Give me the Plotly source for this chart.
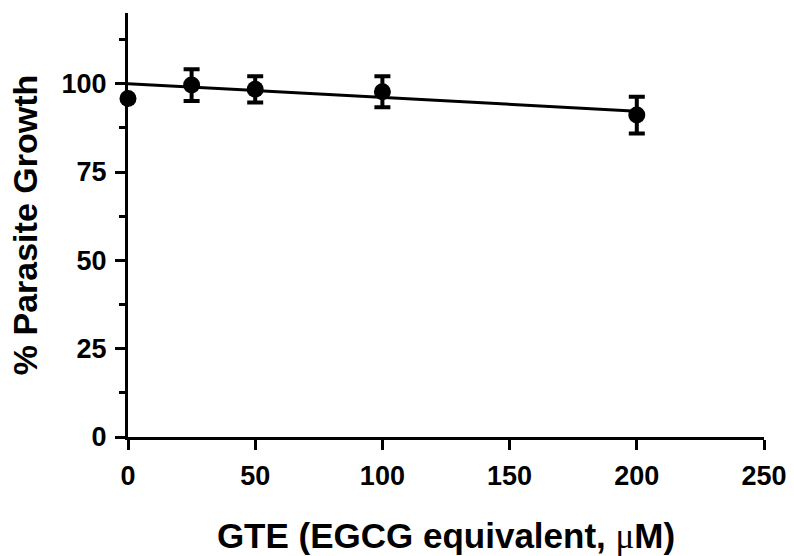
import plotly.graph_objects as go

# Data
conc = [0, 25, 50, 100, 200]              # GTE (EGCG equivalent, µM)
growth = [95.8, 99.6, 98.4, 97.7, 91.1]   # % parasite growth
growth_err = [0.0, 4.5, 3.7, 4.4, 5.2]    # error (±); bar at 0 hidden by symbol

fit_x = [0, 200]
fit_y = [100.0, 92.2]

x_ticks = [0, 50, 100, 150, 200, 250]
y_ticks = [0, 25, 50, 75, 100]
y_minor = [12.5, 37.5, 62.5, 87.5, 112.5]

FONT = "Liberation Sans, Arial, sans-serif"

fig = go.Figure()
fig.add_trace(go.Scatter(
    x=fit_x, y=fit_y, mode="lines",
    line=dict(color="black", width=3),
    showlegend=False, cliponaxis=False,
))
fig.add_trace(go.Scatter(
    x=conc, y=growth, mode="markers",
    marker=dict(color="black", size=17, symbol="circle"),
    error_y=dict(type="data", array=growth_err, visible=True,
                 color="black", thickness=4, width=8),
    showlegend=False, cliponaxis=False,
))

fig.update_layout(
    width=794, height=556,
    margin=dict(l=128, r=30, t=13, b=119),
    plot_bgcolor="white", paper_bgcolor="white",
    font=dict(family=FONT, color="black"),
    xaxis=dict(
        range=[0, 250], tickvals=x_ticks, ticktext=[str(v) for v in x_ticks],
        showline=True, linecolor="black", linewidth=3,
        ticks="outside", ticklen=10, tickwidth=3, tickcolor="black",
        showgrid=False, zeroline=False, automargin=False,
        tickfont=dict(size=27, family=FONT, weight="bold"),
        ticklabelstandoff=3,
        title=dict(text="GTE (EGCG equivalent, <span style=\"font-family:Liberation Serif;font-weight:normal\">μ</span>M)",
                   font=dict(size=35, family=FONT, weight="bold"), standoff=38),
    ),
    yaxis=dict(
        range=[0, 120], tickvals=y_ticks, ticktext=[str(v) for v in y_ticks],
        showline=True, linecolor="black", linewidth=3,
        ticks="outside", ticklen=10, tickwidth=3, tickcolor="black",
        minor=dict(tickvals=y_minor, ticks="outside",
                   ticklen=6, tickwidth=3, tickcolor="black", showgrid=False),
        showgrid=False, zeroline=False, automargin=False,
        tickfont=dict(size=27, family=FONT, weight="bold"),
        ticklabelstandoff=3,
        title=dict(text="% Parasite Growth",
                   font=dict(size=34, family=FONT, weight="bold"), standoff=14),
    ),
)

fig.write_html("out.html", config={"displayModeBar": False},
               post_script="document.body.style.margin='0';document.body.style.overflow='hidden';")
